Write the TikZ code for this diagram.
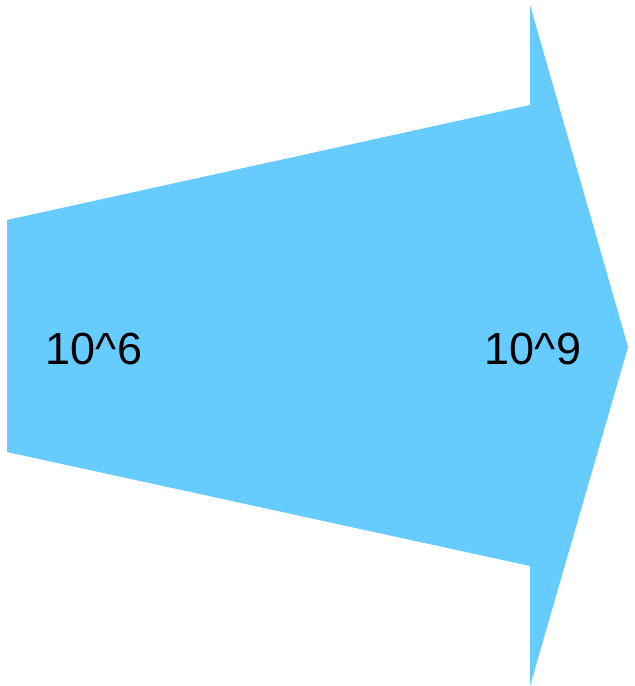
\documentclass[tikz,border=0pt]{standalone}
\usepackage{fontspec}
\setmainfont{Liberation Sans}
\definecolor{arrowblue}{HTML}{66CCFF}
\begin{document}
\begin{tikzpicture}[x=1pt,y=-1pt,
  lbl/.style={inner sep=0pt, font=\fontsize{45}{54}\selectfont, text=black}]
\useasboundingbox (0,0) rectangle (635,686);
\fill[arrowblue] (7,220) -- (530,105) -- (530,5) -- (628,347) -- (530,686) -- (530,566) -- (7,452) -- cycle;
\node[lbl] (a) at (94,349) {10\^{}6};
\node[lbl] (b) at (533,349) {10\^{}9};
\end{tikzpicture}
\end{document}
